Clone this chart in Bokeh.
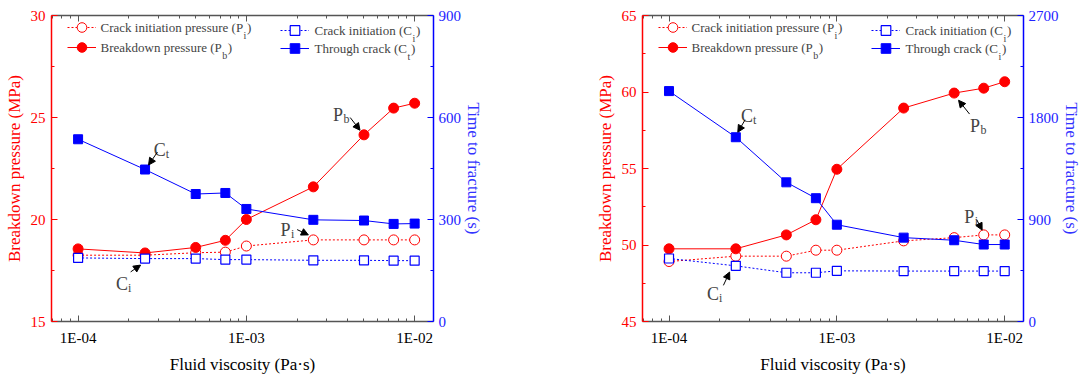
import math
from bokeh.plotting import figure
from bokeh.models import (Range1d, LinearAxis, LogAxis, FixedTicker, CustomJSTickFormatter,
                          Legend, LegendItem, Label, Arrow, NormalHead)
from bokeh.layouts import row
from bokeh.embed import file_html
from bokeh.resources import INLINE

# ---------------- data ----------------
viscosity = [1e-4, 2.5e-4, 5e-4, 7.5e-4, 1e-3, 2.5e-3, 5e-3, 7.5e-3, 1e-2]

# panel (a)
a_pi = [18.25, 18.25, 18.37, 18.40, 18.70, 19.00, 19.00, 19.00, 19.00]
a_pb = [18.56, 18.36, 18.63, 18.98, 20.00, 21.60, 24.15, 25.46, 25.70]
a_ci = [187, 185, 185, 182, 182, 180, 180, 179, 179]
a_ct = [536, 447, 375, 378, 331, 299, 297, 287, 288]

# panel (b)
b_pi = [48.92, 49.27, 49.27, 49.66, 49.66, 50.27, 50.48, 50.66, 50.66]
b_pb = [49.75, 49.75, 50.66, 51.65, 54.95, 58.95, 59.93, 60.25, 60.67]
b_ci = [556, 491, 430, 430, 447, 445, 445, 445, 445]
b_ct = [2033, 1626, 1228, 1088, 854, 740, 717, 679, 679]

x_ticks = [1e-4, 1e-3, 1e-2]
x_tick_labels = ["1E-04", "1E-03", "1E-02"]
x_minor = [m * 10.0 ** e for e in (-5, -4, -3, -2) for m in range(2, 10)]

a_p_ticks = [15, 20, 25, 30]
a_t_ticks = [0, 300, 600, 900]
b_p_ticks = [45, 50, 55, 60, 65]
b_t_ticks = [0, 900, 1800, 2700]

x_label = "Fluid viscosity (Pa·s)"
yl_label = "Breakdown pressure (MPa)"
yr_label = "Time to fracture (s)"

FONT = "Liberation Serif, Times New Roman, serif"
RED = "#ff0000"
BLUE = "#0000ff"
AX_GRAY = "#555555"
XMIN, XMAX = 10 ** -4.158, 10 ** -1.888
FH = 306


def minors(t):
    return [(t[i] + t[i + 1]) / 2 for i in range(len(t) - 1)]


def style_axis(ax, color, label_color, text_color):
    ax.axis_line_color = color
    ax.axis_line_width = 1.5
    ax.major_tick_line_color = color
    ax.minor_tick_line_color = color
    ax.major_tick_in = 6
    ax.major_tick_out = 0
    ax.minor_tick_in = 3
    ax.minor_tick_out = 0
    ax.major_label_text_font = FONT
    ax.major_label_text_font_size = "15px"
    ax.major_label_text_color = text_color
    ax.major_label_standoff = 6
    ax.axis_label_text_font = FONT
    ax.axis_label_text_font_size = "17px"
    ax.axis_label_text_font_style = "normal"
    ax.axis_label_text_color = label_color
    ax.axis_label_standoff = 4


def make_panel(pi, pb, ci, ct, p_ticks, t_ticks, fw, bl, br, ct_sub, ann):
    p_lo, p_hi = p_ticks[0], p_ticks[-1]
    t_lo, t_hi = t_ticks[0], t_ticks[-1]
    p = figure(x_axis_type="log", x_range=Range1d(XMIN, XMAX), y_range=Range1d(p_lo, p_hi),
               frame_width=fw, frame_height=FH, min_border_left=bl, min_border_right=br,
               min_border_top=15, min_border_bottom=58,
               output_backend="svg", toolbar_location=None)
    p.extra_y_ranges = {"time": Range1d(t_lo, t_hi)}
    p.xgrid.visible = False
    p.ygrid.visible = False
    p.outline_line_color = None
    p.background_fill_color = "white"

    fmt = CustomJSTickFormatter(args=dict(tv=x_ticks, tl=x_tick_labels), code="""
        const i = tv.findIndex(t => Math.abs(Math.log10(t) - Math.log10(tick)) < 1e-6);
        return i >= 0 ? tl[i] : "";""")
    xb = p.xaxis[0]
    xb.ticker = FixedTicker(ticks=x_ticks, minor_ticks=x_minor)
    xb.formatter = fmt
    xb.axis_label = x_label
    style_axis(xb, AX_GRAY, "black", "black")
    xb.major_label_standoff = 8
    xb.axis_label_standoff = 6

    top = LogAxis(ticker=FixedTicker(ticks=x_ticks, minor_ticks=x_minor),
                  formatter=CustomJSTickFormatter(code="return '';"))
    style_axis(top, AX_GRAY, "black", "black")
    p.add_layout(top, "above")

    yl = p.yaxis[0]
    yl.ticker = FixedTicker(ticks=p_ticks, minor_ticks=minors(p_ticks))
    yl.axis_label = yl_label
    style_axis(yl, RED, RED, RED)

    yr = LinearAxis(y_range_name="time", ticker=FixedTicker(ticks=t_ticks, minor_ticks=minors(t_ticks)),
                    axis_label=yr_label)
    style_axis(yr, BLUE, "#3333ff", "#2222ff")
    yr.major_label_standoff = 5
    yr.axis_label_standoff = 0
    p.add_layout(yr, "right")

    l1 = p.line(viscosity, pi, line_color=RED, line_dash="2 2", line_width=1)
    s1 = p.scatter(viscosity, pi, marker="circle", size=10, fill_color="white", line_color=RED, line_width=1)
    l2 = p.line(viscosity, pb, line_color=RED, line_width=1)
    s2 = p.scatter(viscosity, pb, marker="circle", size=10, fill_color=RED, line_color=RED)
    l3 = p.line(viscosity, ci, line_color=BLUE, line_dash="2 2", line_width=1, y_range_name="time")
    s3 = p.scatter(viscosity, ci, marker="square", size=9, fill_color="white", line_color=BLUE,
                   line_width=1.2, y_range_name="time")
    l4 = p.line(viscosity, ct, line_color=BLUE, line_width=1, y_range_name="time")
    s4 = p.scatter(viscosity, ct, marker="square", size=9, fill_color=BLUE, line_color=BLUE,
                   y_range_name="time")

    # ----- legend (samples via Legend, text via Labels) -----
    entries = [
        ([l1, s1], 16, 49, 294, "Crack initiation pressure (P", "i", 142.6),
        ([l2, s2], 16, 49, 274, "Breakdown pressure (P", "b", 121.3),
        ([l3, s3], 229, 263, 291.5, "Crack initiation (C", "i", 97.5),
        ([l4, s4], 229, 263, 273, "Through crack (C", ct_sub, 92.4),
    ]
    for rs, gx, tx, fy, main, sub, w in entries:
        lg = Legend(items=[LegendItem(label="", renderers=rs)], location=(gx, fy - 12),
                    padding=0, margin=0, spacing=0, border_line_color=None,
                    background_fill_alpha=0, glyph_width=29, glyph_height=24,
                    label_height=24, label_width=0, label_standoff=0,
                    label_text_font_size="1px")
        p.add_layout(lg)
        p.add_layout(Label(x=tx, y=fy, x_units="screen", y_units="screen", text=main,
                           text_font=FONT, text_font_size="13px", text_baseline="middle"))
        p.add_layout(Label(x=tx + w + 0.5, y=fy - 8, x_units="screen", y_units="screen", text=sub,
                           text_font=FONT, text_font_size="10px", text_baseline="alphabetic"))
        sw = 5.5 if sub == "b" else 3.5
        p.add_layout(Label(x=tx + w + 0.5 + sw, y=fy, x_units="screen", y_units="screen", text=")",
                           text_font=FONT, text_font_size="13px", text_baseline="middle"))

    # ----- annotations -----
    dec = fw / (math.log10(XMAX) - math.log10(XMIN))
    series = {"pi": (pi, "default", p_hi - p_lo), "pb": (pb, "default", p_hi - p_lo),
              "ci": (ci, "time", t_hi - t_lo), "ct": (ct, "time", t_hi - t_lo)}

    def to_data(i, key, dx, dy):
        vals, _, span = series[key]
        return viscosity[i] * 10 ** (dx / dec), vals[i] + dy * span / FH

    for main, sub, key, i, (tdx, tdy), (sdx, sdy), (edx, edy) in ann:
        vals, rn, span = series[key]
        p.add_layout(Label(x=viscosity[i], y=vals[i], x_offset=tdx, y_offset=tdy, text=main,
                           text_font=FONT, text_font_size="18px", text_baseline="alphabetic",
                           y_range_name=rn))
        mw = 12 if main == "C" else 10.5
        p.add_layout(Label(x=viscosity[i], y=vals[i], x_offset=tdx + mw, y_offset=tdy - 4, text=sub,
                           text_font=FONT, text_font_size="12px", text_baseline="alphabetic",
                           y_range_name=rn))
        xs, ys = to_data(i, key, sdx, sdy)
        xe, ye = to_data(i, key, edx, edy)
        p.add_layout(Arrow(x_start=xs, y_start=ys, x_end=xe, y_end=ye, line_color="black",
                           line_width=1, y_range_name=rn,
                           end=NormalHead(size=7, fill_color="black", line_color="black", line_width=1)))
    return p


ann_a = [
    ("C", "t", "ct", 1, (8.8, 19.5), (12.4, 17.5), (3.5, 4.5)),
    ("C", "i", "ci", 1, (-29, -25.5), (-14.4, -13.3), (-4.5, -6.5)),
    ("P", "b", "pb", 6, (-31, 19.5), (-13.8, 17.3), (-4, 4.6)),
    ("P", "i", "pi", 5, (-32.8, 10), (-16.2, 10.3), (-5, 5)),
]
ann_b = [
    ("C", "t", "ct", 1, (5.1, 21.5), (9.3, 17.4), (2, 5)),
    ("C", "i", "ci", 1, (-28.8, -27.7), (-12.4, -19.5), (-6.2, -6.2)),
    ("P", "b", "pb", 6, (15.8, -32.8), (15.4, -21), (4.4, -7.2)),
    ("P", "i", "pi", 7, (-19.6, 18.4), (-6.9, 15), (-1.6, 4.8)),
]

p1 = make_panel(a_pi, a_pb, a_ci, a_ct, a_p_ticks, a_t_ticks, 382, 51, 107, "t", ann_a)
p2 = make_panel(b_pi, b_pb, b_ci, b_ct, b_p_ticks, b_t_ticks, 381, 102, 63, "i", ann_b)

layout = row(p1, p2)
open("out.html", "w").write(file_html(layout, INLINE))
